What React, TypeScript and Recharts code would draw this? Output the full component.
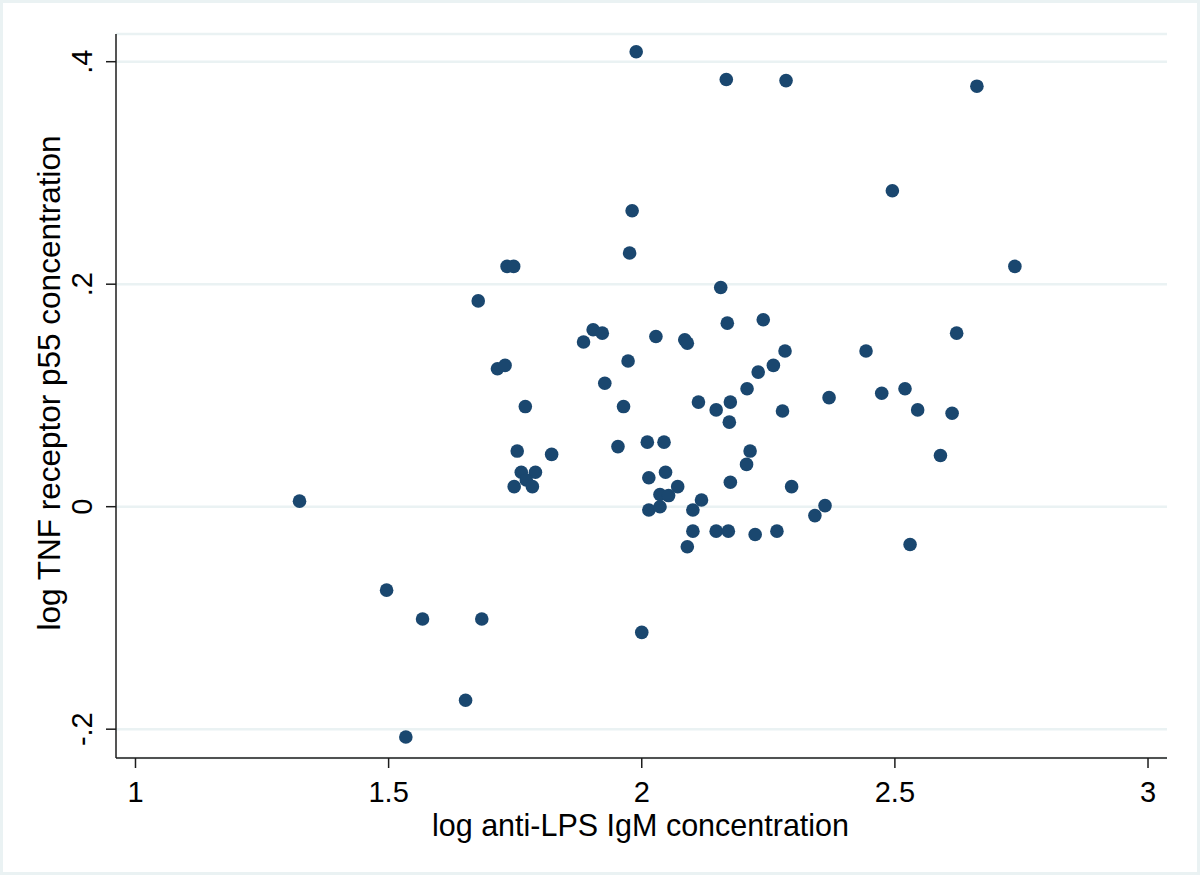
import React from "react";
import { ScatterChart, Scatter, XAxis, YAxis, CartesianGrid, Label } from "recharts";

// log anti-LPS IgM concentration
const xValues = [
  1.324, 1.496, 1.534, 1.567, 1.652, 1.684, 1.677, 1.715, 1.730, 1.734,
  1.747, 1.770, 1.754, 1.762, 1.790, 1.748, 1.772, 1.784, 1.822, 1.885,
  1.904, 1.922, 1.927, 1.953, 1.964, 1.973, 1.976, 1.981, 1.989, 2.000,
  2.011, 2.014, 2.014, 2.028, 2.044, 2.047, 2.036, 2.053, 2.036, 2.071,
  2.085, 2.090, 2.112, 2.101, 2.118, 2.101, 2.090, 2.147, 2.147, 2.156,
  2.167, 2.169, 2.171, 2.173, 2.175, 2.175, 2.207, 2.208, 2.214, 2.224,
  2.230, 2.240, 2.260, 2.267, 2.278, 2.283, 2.285, 2.296, 2.342, 2.362,
  2.370, 2.443, 2.474, 2.495, 2.520, 2.530, 2.545, 2.590, 2.613, 2.622,
  2.662, 2.737,
];

// log TNF receptor p55 concentration
const yValues = [
  0.005, -0.075, -0.207, -0.101, -0.174, -0.101, 0.185, 0.124, 0.127, 0.216,
  0.216, 0.090, 0.050, 0.031, 0.031, 0.018, 0.024, 0.018, 0.047, 0.148,
  0.159, 0.156, 0.111, 0.054, 0.090, 0.131, 0.228, 0.266, 0.409, -0.113,
  0.058, 0.026, -0.003, 0.153, 0.058, 0.031, 0.011, 0.010, 0.000, 0.018,
  0.150, 0.147, 0.094, -0.003, 0.006, -0.022, -0.036, 0.087, -0.022, 0.197,
  0.384, 0.165, -0.022, 0.076, 0.094, 0.022, 0.038, 0.106, 0.050, -0.025,
  0.121, 0.168, 0.127, -0.022, 0.086, 0.140, 0.383, 0.018, -0.008, 0.001,
  0.098, 0.140, 0.102, 0.284, 0.106, -0.034, 0.087, 0.046, 0.084, 0.156,
  0.378, 0.216,
];

const xTicks = [1, 1.5, 2, 2.5, 3];
const xTickLabels = ["1", "1.5", "2", "2.5", "3"];
const yTicks = [-0.2, 0, 0.2, 0.4];
const yTickLabels = ["-.2", "0", ".2", ".4"];

const xTitle = "log anti-LPS IgM concentration";
const yTitle = "log TNF receptor p55 concentration";

const data = xValues.map((x, i) => ({ x, y: yValues[i] }));

const FONT = "'Liberation Sans', Arial, Helvetica, sans-serif";
const FS = 29;
const TITLE_FS = 30.5;
const DOT = "#1a476f";
const GRID = "#eaf2f3";
const AXIS = "#1c1c1c";

const XTick = (props: any) => {
  const { x, y, payload } = props;
  const idx = xTicks.indexOf(payload.value);
  return (
    <text x={x} y={y + 32} textAnchor="middle" fontFamily={FONT} fontSize={FS} fill="#000">
      {idx >= 0 ? xTickLabels[idx] : payload.value}
    </text>
  );
};

const YTick = (props: any) => {
  const { x, y, payload } = props;
  const idx = yTicks.indexOf(payload.value);
  const bx = x - 12;
  return (
    <text
      x={bx}
      y={y}
      transform={`rotate(-90, ${bx}, ${y})`}
      textAnchor="middle"
      fontFamily={FONT}
      fontSize={FS}
      fill="#000"
    >
      {idx >= 0 ? yTickLabels[idx] : payload.value}
    </text>
  );
};

const Dot = (props: any) => {
  const { cx, cy } = props;
  return <circle cx={cx} cy={cy} r={6.8} fill={DOT} />;
};

export default function App() {
  return (
    <div
      style={{
        position: "absolute",
        left: 0,
        top: 0,
        width: 1200,
        height: 875,
        background: "#fff",
        boxShadow: `inset 0 0 0 3px ${GRID}`,
      }}
    >
      <style>{`body{margin:0}`}</style>
      <ScatterChart
        width={1200}
        height={875}
        margin={{ top: 34, right: 33, left: 0, bottom: 0 }}
      >
        <CartesianGrid horizontal={true} vertical={false} stroke={GRID} strokeWidth={2.5} />
        <XAxis
          type="number"
          dataKey="x"
          domain={[0.9615, 3.0375]}
          ticks={xTicks}
          allowDataOverflow
          height={117}
          tickSize={10}
          tickMargin={2}
          tickLine={{ stroke: AXIS, strokeWidth: 1.5 }}
          axisLine={{ stroke: AXIS, strokeWidth: 1.5 }}
          tick={<XTick />}
          interval={0}
        >
          <Label
            content={(p: any) => {
              const vb = p.viewBox || {};
              const cx = (vb.x ?? 116) + (vb.width ?? 1051) / 2;
              return (
                <text x={cx - 1} y={836} textAnchor="middle" fontFamily={FONT} fontSize={TITLE_FS} fill="#000">
                  {xTitle}
                </text>
              );
            }}
          />
        </XAxis>
        <YAxis
          type="number"
          dataKey="y"
          domain={[-0.2259, 0.4249]}
          ticks={yTicks}
          allowDataOverflow
          width={116}
          tickSize={10}
          tickMargin={2}
          tickLine={{ stroke: AXIS, strokeWidth: 1.5 }}
          axisLine={{ stroke: AXIS, strokeWidth: 1.5 }}
          tick={<YTick />}
          interval={0}
        >
          <Label
            content={() => {
              const cy = 383;
              const bx = 60;
              return (
                <text
                  x={bx}
                  y={cy}
                  transform={`rotate(-90, ${bx}, ${cy})`}
                  textAnchor="middle"
                  fontFamily={FONT}
                  fontSize={31.5}
                  fill="#000"
                >
                  {yTitle}
                </text>
              );
            }}
          />
        </YAxis>
        <Scatter data={data} shape={<Dot />} isAnimationActive={false} />
      </ScatterChart>
    </div>
  );
}
